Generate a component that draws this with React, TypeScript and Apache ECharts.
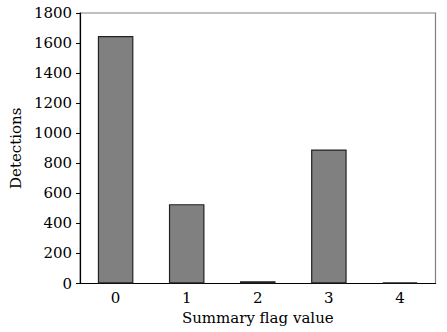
import React, { useEffect, useRef } from "react";
import * as echarts from "echarts";

const categories = ["0", "1", "2", "3", "4"];
const detections = [1647, 528, 15, 892, 7];
const yTicks = { min: 0, max: 1800, interval: 200 };

export default function App() {
  const ref = useRef<HTMLDivElement>(null);
  useEffect(() => {
    const chart = echarts.init(ref.current!, null, { renderer: "svg" });
    const font = "DejaVu Serif";
    chart.setOption({
      animation: false,
      backgroundColor: "#ffffff",
      grid: { left: 72, top: 13, right: 11.5, bottom: 48.5, show: true, borderColor: "#808080", borderWidth: 1.2 },
      xAxis: {
        type: "category",
        data: categories,
        name: "Summary flag value",
        nameLocation: "middle",
        nameGap: 25,
        nameTextStyle: { fontFamily: font, fontSize: 15, color: "#000" },
        axisLine: { lineStyle: { color: "#000", width: 1.2 } },
        axisTick: { alignWithLabel: true, length: 4, lineStyle: { color: "#000" } },
        axisLabel: { fontFamily: font, fontSize: 15, color: "#000", margin: 7 },
      },
      yAxis: {
        type: "value",
        min: yTicks.min,
        max: yTicks.max,
        interval: yTicks.interval,
        name: "Detections",
        nameLocation: "middle",
        nameGap: 43,
        nameTextStyle: { fontFamily: font, fontSize: 15, color: "#000" },
        axisLine: { show: true, lineStyle: { color: "#000", width: 1.2 } },
        axisTick: { show: true, length: 4, lineStyle: { color: "#000" } },
        axisLabel: { fontFamily: font, fontSize: 15, color: "#000", margin: 8, formatter: (v: number) => String(v) },
        splitLine: { show: false },
      },
      series: [
        {
          type: "bar",
          data: detections,
          barWidth: "50%",
          itemStyle: { color: "#808080", borderColor: "#222", borderWidth: 1.2 },
        },
      ],
    });
    return () => chart.dispose();
  }, []);
  return <div ref={ref} style={{ width: 447, height: 332, position: "absolute", left: 0, top: 0 }} />;
}
